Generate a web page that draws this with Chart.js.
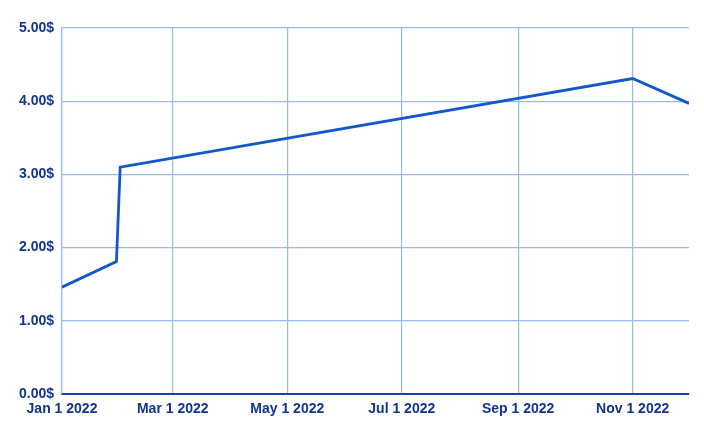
<!DOCTYPE html>
<html>
<head>
<meta charset="utf-8">
<script src="https://cdn.jsdelivr.net/npm/chart.js@4"></script>
<style>
  html, body { margin: 0; padding: 0; background: #fff; }
  #wrap { width: 704px; height: 435px; }
</style>
</head>
<body>
<div id="wrap"><canvas id="myChart" width="704" height="435"></canvas></div>
<script>
// values
const dates = ['2022-01-01', '2022-01-30', '2022-02-01', '2022-11-01', '2022-12-01'];
const prices = [1.46, 1.81, 3.10, 4.31, 3.97];

const tickDates = ['2022-01-01', '2022-03-01', '2022-05-01', '2022-07-01', '2022-09-01', '2022-11-01'];
const tickLabels = ['Jan 1 2022', 'Mar 1 2022', 'May 1 2022', 'Jul 1 2022', 'Sep 1 2022', 'Nov 1 2022'];

const ts = s => Date.parse(s + 'T00:00:00Z');

const GRID = '#96b9f4';
const TEXT = '#12348f';
const LINE = '#1257cc';

const ctx = document.getElementById('myChart');

const data = {
  datasets: [{
    label: 'Price',
    data: dates.map((d, i) => ({ x: ts(d), y: prices[i] })),
    borderColor: LINE,
    borderWidth: 2.8,
    pointRadius: 0,
    fill: false,
    tension: 0
  }]
};

const CONFIG = {
  type: 'line',
  data: data,
  options: {
    responsive: false,
    animation: false,
    devicePixelRatio: 1,
    layout: { padding: { top: 28, right: 15, left: 0, bottom: 0 } },
    plugins: { legend: { display: false }, tooltip: { enabled: false } },
    scales: {
      x: {
        type: 'linear',
        min: ts('2022-01-01'),
        max: ts('2022-12-01'),
        afterBuildTicks: scale => {
          scale.ticks = tickDates.map(d => ({ value: ts(d) }));
        },
        afterFit: scale => { scale.height = 41; },
        grid: { color: GRID, lineWidth: 1.2, drawTicks: false },
        border: { color: '#1a3fa8', width: 2 },
        ticks: {
          padding: 7,
          maxRotation: 0,
          autoSkip: false,
          color: TEXT,
          font: { family: 'Liberation Sans', size: 14, weight: 'bold' },
          callback: (v) => {
            const i = tickDates.findIndex(d => ts(d) === v);
            return i >= 0 ? tickLabels[i] : '';
          }
        }
      },
      y: {
        min: 0,
        max: 5,
        afterFit: scale => { scale.width = 62; },
        grid: { color: GRID, lineWidth: 1.2, drawTicks: false },
        border: { color: GRID, width: 1.2 },
        ticks: {
          stepSize: 1,
          padding: 8,
          color: TEXT,
          font: { family: 'Liberation Sans', size: 14, weight: 'bold' },
          callback: v => v.toFixed(2) + '$'
        }
      }
    }
  }
};

const chart = new Chart(ctx, CONFIG);
</script>
</body>
</html>
